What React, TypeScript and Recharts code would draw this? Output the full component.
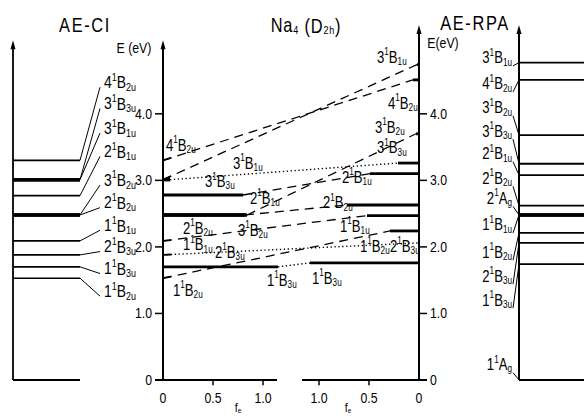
import React from 'react';
import { ComposedChart, XAxis, YAxis, ReferenceLine, ReferenceDot } from 'recharts';

const W = 584;
const H = 416;
const FONT = "'Liberation Sans','Arial',sans-serif";
const SX = 0.82; // horizontal squeeze to mimic the narrow lettering

// ---------- AE-CI (left panel) ----------
const ciStates = ['4B2u', '3B3u', '3B1u', '2B1u', '3B2u', '2B2u', '1B1u', '2B3u', '1B3u', '1B2u'];
const ciEnergies = [3.30, 3.01, 3.01, 2.77, 2.48, 2.48, 2.09, 1.88, 1.70, 1.53];
const ciLabelE = [4.48, 4.16, 3.79, 3.44, 3.01, 2.67, 2.33, 2.01, 1.68, 1.34];

// ---------- AE-RPA (right panel) ----------
const rpaStates = ['3B1u', '4B2u', '3B2u', '3B3u', '2B1u', '2B2u', '2Ag', '1B1u', '1B2u', '2B3u', '1B3u', '1Ag'];
const rpaEnergies = [4.77, 4.51, 3.68, 3.25, 3.08, 2.62, 2.48, 2.48, 2.21, 2.06, 1.74, 0];
const rpaLabelE = [4.84, 4.45, 4.09, 3.74, 3.40, 3.03, 2.73, 2.33, 1.92, 1.56, 1.20, 0.23];

// ---------- Na4 (D2h) correlation (centre panel) ----------
const centerStates = ['4B2u', '3B1u', '3B3u', '2B1u', '3B2u', '2B2u', '1B1u', '2B3u', '1B3u', '1B2u'];
const centerLeftE = [3.30, 3.01, 3.01, 2.78, 2.48, 2.48, 2.09, 1.88, 1.70, 1.53];
const centerRightE = [4.51, 4.74, 3.26, 3.10, 3.70, 2.63, 2.47, 2.06, 1.76, 2.24];
const leftLevelTo = [0.0, 0.0, 0.07, 0.80, 0.84, 0.82, 0.0, 0.0, 1.15, 0.0];
const rightLevelFrom = [0.06, 0.02, 0.21, 0.49, 0.03, 0.72, 0.52, 0.0, 1.09, 0.29];
const connectorKind = ['dash', 'dash', 'dot', 'dash', 'dash', 'dash', 'dash', 'dot', 'dot', 'dash'];

// centre labels
const centerLabelStates = ['4B2u', '3B1u', '3B3u', '2B1u', '2B2u', '3B2u', '1B1u', '2B3u', '1B2u', '1B3u', '1B3u', '2B1u', '2B2u', '1B1u', '1B2u', '2B3u', '3B1u', '4B2u', '3B2u', '3B3u'];
const centerLabelX = [0.03, 0.70, 0.42, 0.87, 0.20, 0.75, 0.20, 0.52, 0.10, 1.04, 1.49, 1.79, 1.60, 1.77, 1.97, 2.27, 2.14, 2.25, 2.12, 2.14];
const centerLabelE = [3.53, 3.26, 2.98, 2.73, 2.28, 2.25, 2.03, 1.92, 1.35, 1.50, 1.53, 3.05, 2.66, 2.31, 2.01, 2.01, 4.85, 4.16, 3.80, 3.49];

// axis ticks
const eTicks = [0, 1, 2, 3, 4];
const eTickLabels = ['0', '1.0', '2.0', '3.0', '4.0'];
const fTicks = [0, 0.5, 1.0];
const fTickLabels = ['0', '0.5', '1.0'];

// layout (x in f_e units of the centre panel)
const X_MIN = -1.63;
const X_MAX = 4.21;
const CI_AXIS = -1.50;
const CI_LINE_END = -0.83;
const CI_LABEL_X = -0.59;
const CENTER_R = 2.56;
const BREAK_L = 1.14;
const BREAK_R = 1.39;
const RPA_AXIS = 3.56;
const RPA_LINE_END = 4.21;
const RPA_LABEL_X = 3.49;

function Squeeze(props: any) {
  const { cx, cy, children } = props;
  return <g transform={`translate(${cx},${cy}) scale(${SX},1)`}>{children}</g>;
}

function StateLabel(props: any) {
  const { cx, cy, state, anchor = 'start', size = 17 } = props;
  const n = state[0];
  const sym = state[1];
  const sub = state.slice(2);
  const small = Math.round(size * 0.64);
  return (
    <Squeeze cx={cx} cy={cy}>
      <text x={0} y={0} textAnchor={anchor} dominantBaseline="central" fontFamily={FONT} fontSize={size} fill="#000">
        {n}
        <tspan fontSize={small} dy={-size * 0.33}>1</tspan>
        <tspan dy={size * 0.33}>{sym}</tspan>
        <tspan fontSize={small} dy={size * 0.28}>{sub}</tspan>
      </text>
    </Squeeze>
  );
}

function PlainText(props: any) {
  const { cx, cy, text, anchor = 'middle', size = 13, spacing = 0 } = props;
  return (
    <Squeeze cx={cx} cy={cy}>
      <text x={0} y={0} textAnchor={anchor} dominantBaseline="central" fontFamily={FONT} fontSize={size} letterSpacing={spacing} fill="#000">
        {text}
      </text>
    </Squeeze>
  );
}

function ArrowUp(props: any) {
  const { cx, cy } = props;
  return <polygon points={`${cx},${cy - 5} ${cx - 2.5},${cy + 4} ${cx + 2.5},${cy + 4}`} fill="#000" />;
}

let keyN = 0;
function seg(x1: number, y1: number, x2: number, y2: number, w = 1.5, dash?: string) {
  keyN += 1;
  return (
    <ReferenceLine
      key={'s' + keyN}
      segment={[{ x: x1, y: y1 }, { x: x2, y: y2 }]}
      stroke="#000"
      strokeWidth={w}
      strokeDasharray={dash}
      ifOverflow="visible"
    />
  );
}

function dot(x: number, y: number, shape: (p: any) => React.ReactElement) {
  keyN += 1;
  return <ReferenceDot key={'d' + keyN} x={x} y={y} r={0} ifOverflow="visible" shape={shape} />;
}

function countSame(arr: number[], v: number) {
  return arr.filter((e) => Math.abs(e - v) < 1e-6).length;
}

function FeLabel(p: any) {
  return (
    <Squeeze cx={p.cx} cy={p.cy}>
      <text x={0} y={0} textAnchor="middle" dominantBaseline="central" fontFamily={FONT} fontSize={13}>
        f<tspan fontSize={8} dy={2}>e</tspan>
      </text>
    </Squeeze>
  );
}

export default function App() {
  keyN = 0;
  const els: React.ReactElement[] = [];

  // ---- AE-CI panel ----
  els.push(seg(CI_AXIS, 0, CI_AXIS, 5.0, 1.8));
  els.push(dot(CI_AXIS, 5.03, (p) => <ArrowUp {...p} />));
  els.push(seg(CI_AXIS, 0, CI_LINE_END, 0, 1.8));
  ciEnergies.forEach((e, i) => {
    els.push(seg(CI_AXIS, e, CI_LINE_END, e, countSame(ciEnergies, e) > 1 ? 3.6 : 1.6));
    els.push(seg(CI_LINE_END, e, CI_LABEL_X - 0.04, ciLabelE[i] - 0.08, 1));
    els.push(dot(CI_LABEL_X, ciLabelE[i], (p) => <StateLabel {...p} state={ciStates[i]} anchor="start" size={17} />));
  });
  els.push(dot(-0.78, 5.33, (p) => <PlainText {...p} text="AE-CI" size={20} spacing={2} />));

  // ---- centre panel axes ----
  els.push(seg(0, 0, 0, 5.0, 2));
  els.push(dot(0, 5.03, (p) => <ArrowUp {...p} />));
  els.push(seg(CENTER_R, 0, CENTER_R, 5.22, 2));
  els.push(dot(CENTER_R, 5.26, (p) => <ArrowUp {...p} />));
  els.push(seg(-0.08, 0, BREAK_L, 0, 2));
  els.push(seg(BREAK_R, 0, CENTER_R + 0.08, 0, 2));
  eTicks.forEach((t, i) => {
    els.push(seg(-0.08, t, 0, t, 1.5));
    els.push(seg(CENTER_R, t, CENTER_R + 0.08, t, 1.5));
    els.push(dot(-0.11, t, (p) => <PlainText {...p} text={eTickLabels[i]} anchor="end" size={15} />));
    els.push(dot(CENTER_R + 0.11, t, (p) => <PlainText {...p} text={eTickLabels[i]} anchor="start" size={15} />));
  });
  fTicks.forEach((f, i) => {
    if (f > 0) {
      els.push(seg(f, 0, f, -0.08, 1.5));
      els.push(seg(CENTER_R - f, 0, CENTER_R - f, -0.08, 1.5));
    }
    els.push(dot(f, -0.27, (p) => <PlainText {...p} text={fTickLabels[i]} size={15} />));
    els.push(dot(CENTER_R - f, -0.27, (p) => <PlainText {...p} text={fTickLabels[i]} size={15} />));
  });
  els.push(dot(0.75, -0.42, (p) => <FeLabel {...p} />));
  els.push(dot(1.85, -0.42, (p) => <FeLabel {...p} />));
  els.push(dot(-0.29, 4.99, (p) => <PlainText {...p} text="E (eV)" size={15} />));
  els.push(dot(CENTER_R + 0.24, 5.06, (p) => <PlainText {...p} text="E(eV)" size={15} />));
  els.push(dot(1.43, 5.33, (p) => (
    <Squeeze cx={p.cx} cy={p.cy}>
      <text x={0} y={0} textAnchor="middle" dominantBaseline="central" fontFamily={FONT} fontSize={20} letterSpacing={1}>
        Na<tspan fontSize={11} dy={4}>4</tspan>
        <tspan dy={-4}> (D</tspan>
        <tspan fontSize={11} dy={4}>2h</tspan>
        <tspan dy={-4}>)</tspan>
      </text>
    </Squeeze>
  )));

  // ---- centre panel correlation lines ----
  centerStates.forEach((s, i) => {
    const eL = centerLeftE[i];
    const eR = centerRightE[i];
    const xL = leftLevelTo[i];
    const xR = CENTER_R - rightLevelFrom[i];
    if (xL > 0.01) els.push(seg(0, eL, xL, eL, countSame(centerLeftE, eL) > 1 ? 3.4 : 2.8));
    else els.push(seg(0, eL, 0.08, eL + (eR - eL) * 0.08 / CENTER_R, 1.8));
    const dash = connectorKind[i] === 'dash' ? '9 6' : '1.3 2.6';
    els.push(seg(xL, eL, xR, eR, connectorKind[i] === 'dash' ? 1.3 : 1.4, dash));
    if (rightLevelFrom[i] > 0.01) els.push(seg(xR, eR, CENTER_R, eR, 2.8));
  });
  centerLabelStates.forEach((s, i) => {
    els.push(dot(centerLabelX[i], centerLabelE[i], (p) => <StateLabel {...p} state={s} anchor="start" size={16} />));
  });

  // ---- AE-RPA panel ----
  els.push(seg(RPA_AXIS, 0, RPA_AXIS, 5.22, 2));
  els.push(dot(RPA_AXIS, 5.26, (p) => <ArrowUp {...p} />));
  rpaEnergies.forEach((e, i) => {
    els.push(seg(RPA_AXIS, e, RPA_LINE_END, e, countSame(rpaEnergies, e) > 1 ? 3.6 : 1.8));
    els.push(seg(RPA_LABEL_X + 0.01, rpaLabelE[i] - 0.12, RPA_AXIS, e, 1));
    els.push(dot(RPA_LABEL_X, rpaLabelE[i], (p) => <StateLabel {...p} state={rpaStates[i]} anchor="end" size={16} />));
  });
  els.push(dot(3.12, 5.36, (p) => <PlainText {...p} text="AE-RPA" size={20} spacing={2} />));

  const dummy = rpaEnergies.map((e) => ({ x: RPA_AXIS, y: e }));

  return (
    <div style={{ position: 'absolute', left: 0, top: 0, width: W, height: H, background: '#fff' }}>
      <ComposedChart width={W} height={H} margin={{ top: 14, right: 0, bottom: 36, left: 0 }} data={dummy}>
        <XAxis type="number" dataKey="x" domain={[X_MIN, X_MAX]} hide allowDataOverflow />
        <YAxis type="number" dataKey="y" domain={[0, 5.5]} hide allowDataOverflow />
        {els}
      </ComposedChart>
    </div>
  );
}
